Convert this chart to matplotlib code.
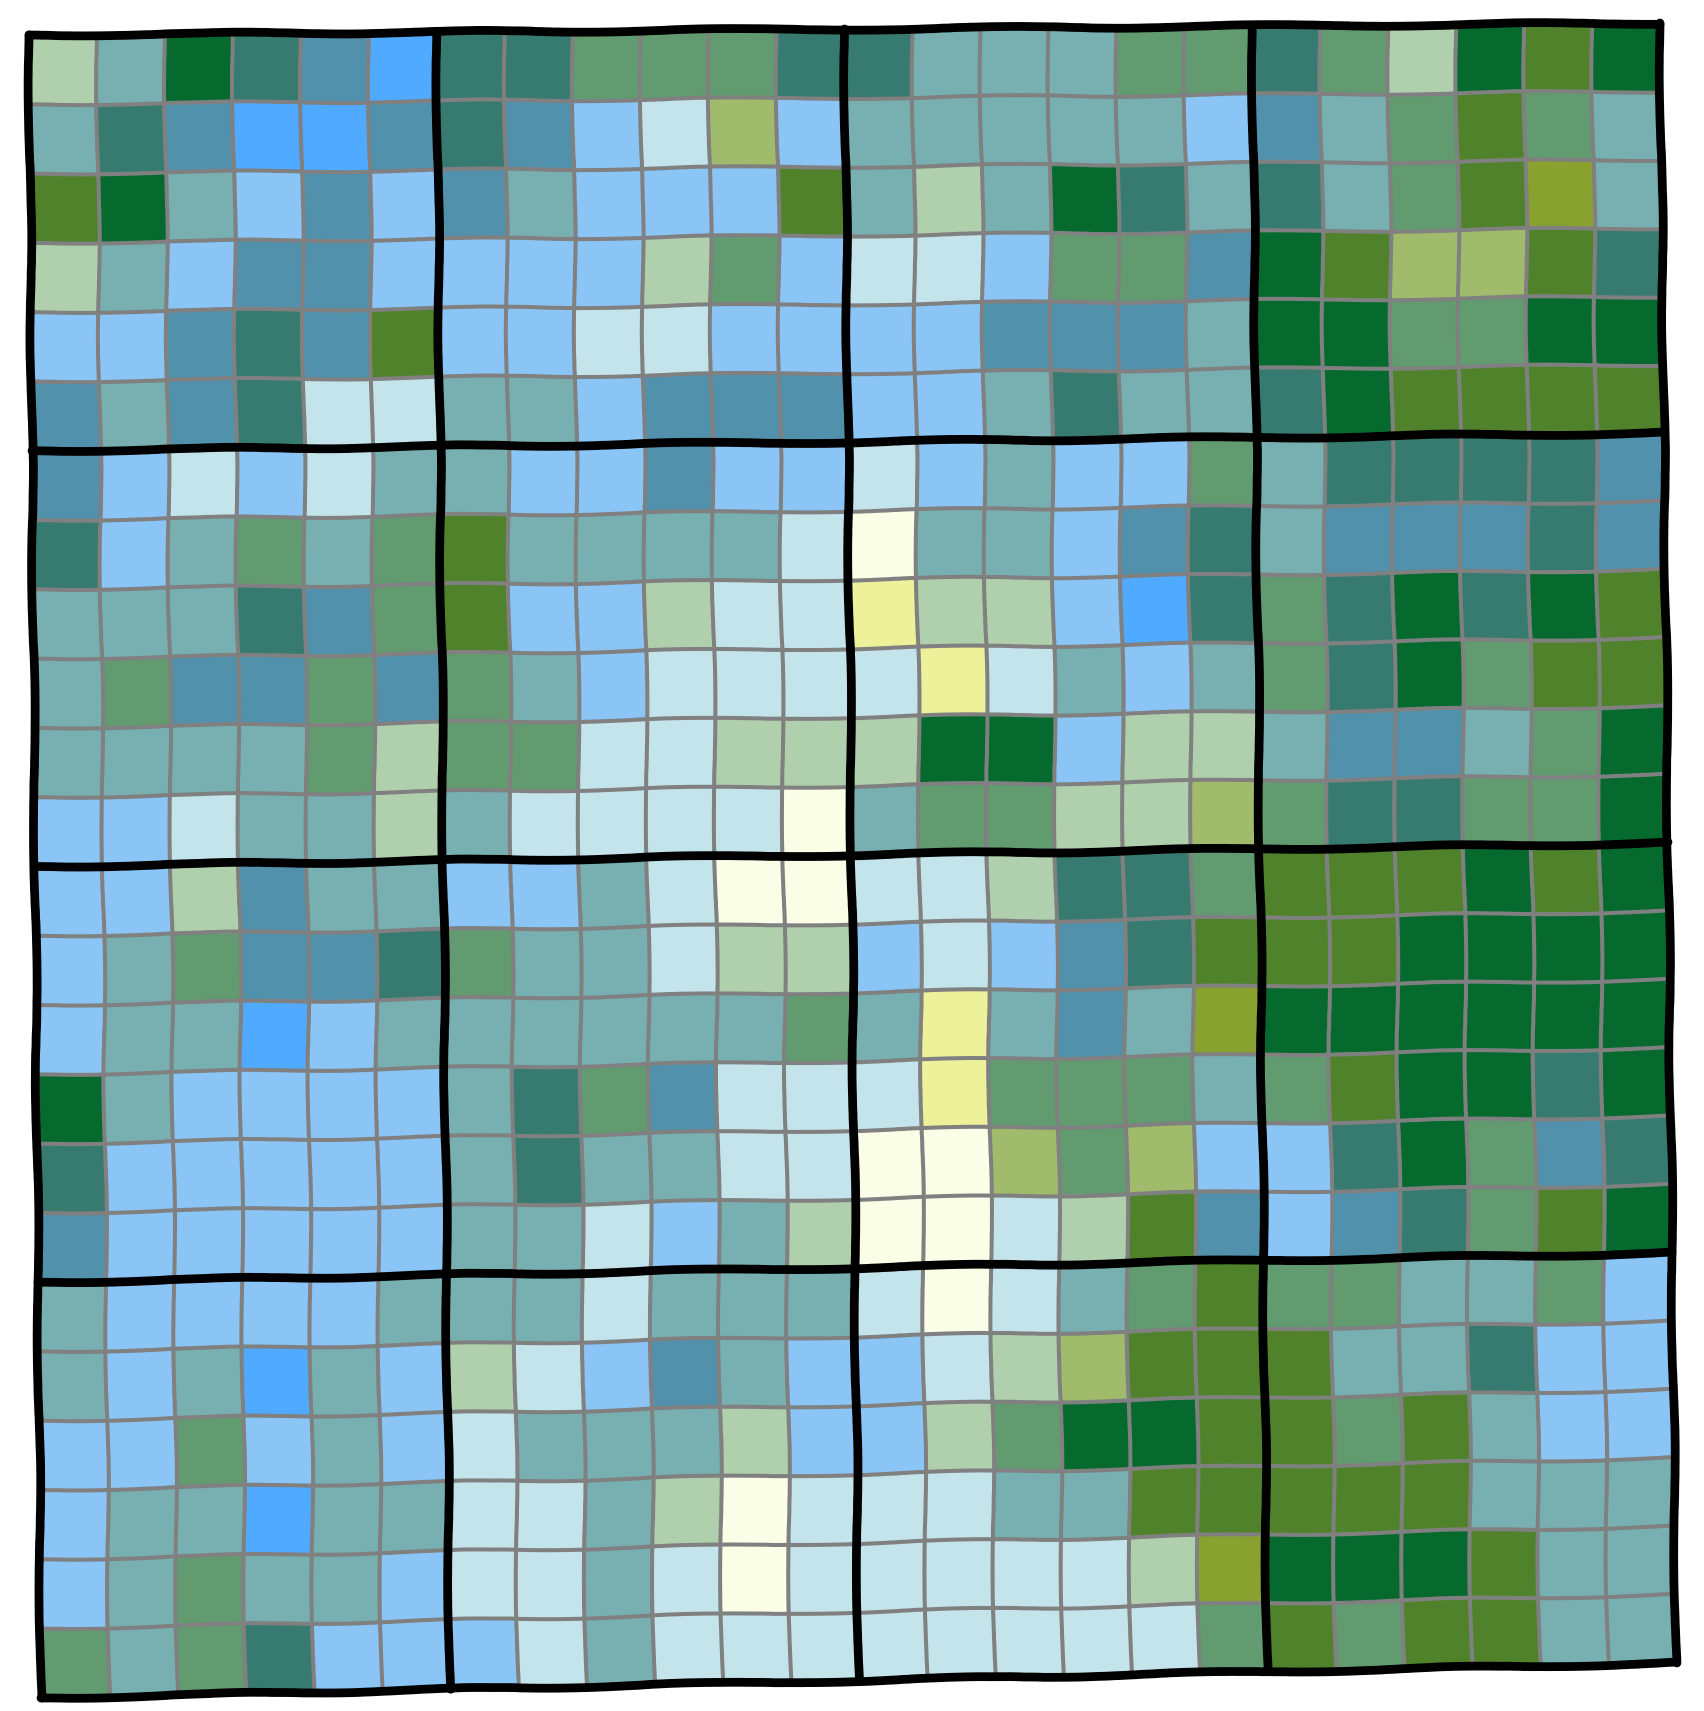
import numpy as np
import matplotlib
matplotlib.use("Agg")
import matplotlib.pyplot as plt
from matplotlib.colors import ListedColormap

# ---- data: categorical colour codes of the 24x24 cells ----
codes = "YECLBSTDGPOKNF"
palette = ["#fbfee6", "#edf19a", "#c4e4ec", "#8ac5f5", "#50aaff", "#5291ac",
           "#78b0b1", "#367a70", "#629b70", "#b0cfac", "#a0bb6c", "#89a22f",
           "#4f822b", "#066a2f"]

grid_rows = [
    "PTFDSB DDGGGD DTTTGG DGPFNF",
    "TDSBBS DSLCOL TTTTTL STGNGT",
    "NFTLSL STLLLN TPTFDT DTGNKT",
    "PTLSSL LLLPGL CCLGGS FNOOND",
    "LLSDSN LLCCLL LLSSST FFGGFF",
    "STSDCC TTLSSS LLTDTT DFNNNN",
    "SLCLCT TLLSLL CLTLLG TDDDDS",
    "DLTGTG NTTTTC YTTLSD TSSSDS",
    "TTTDSG NLLPCC EPPLBD GDFDFN",
    "TGSSGS GTLCCC CECTLT GDFGNN",
    "TTTTGP GGCCPP PFFLPP TSSTGF",
    "LLCTTP TCCCCY TGGPPO GDDGGF",
    "LLPSTT LLTCYY CCPDDG NNNFNF",
    "LTGSSD GTTCPP LCLSDN NNFFFF",
    "LTTBLT TTTTTG TETSTK FFFFFF",
    "FTLLLL TDGSCC CEGGGT GNFFDF",
    "DLLLLL TDTTCC YYOGOL LDFGSD",
    "SLLLLL TTCLTP YYCPNS LSDGNF",
    "TLLLLT TTCTTT CYCTGN GGTTGL",
    "TLTBTL PCLSTL LCPONN NTTDLL",
    "LLGLTL CTTTPL LPGFFN NGNTLL",
    "LTTBTT CCTPYC CCTTNN NNNTTT",
    "LTGTTL CCTCYC CCCCPK FFFNTT",
    "GTGDLL LCTCCC CCCCCG NGNNTT",
]

C = np.array([[codes.index(ch) for ch in r.replace(" ", "")] for r in grid_rows])
n = C.shape[0]
block = 6

# ---- layout: slightly skewed frame corners (pixel coords) ----
TL, TR, BR, BL = (29, 35), (1660, 23), (1676, 1663), (41, 1698)

def warp(u, v):
    s = np.asarray(u) / n
    t = np.asarray(v) / n
    x = TL[0]*(1-s)*(1-t) + TR[0]*s*(1-t) + BR[0]*s*t + BL[0]*(1-s)*t
    y = TL[1]*(1-s)*(1-t) + TR[1]*s*(1-t) + BR[1]*s*t + BL[1]*(1-s)*t
    return x, y

W, H = 1704, 1711
fig = plt.figure(figsize=(W/100, H/100), dpi=100)
ax = fig.add_axes([0, 0, 1, 1])
ax.set_xlim(0, W)
ax.set_ylim(H, 0)
ax.axis("off")

uu, vv = np.meshgrid(np.arange(n+1), np.arange(n+1))
X, Y = warp(uu, vv)
cmap = ListedColormap(palette)
ax.pcolormesh(X, Y, C, cmap=cmap, vmin=-0.5, vmax=len(codes)-0.5,
              shading="flat", edgecolors="none", linewidth=0, antialiased=True)

samp = np.linspace(0, n, 97)
sketch = dict(scale=1.3, length=380, randomness=5)

def draw_line(xs, ys, color, lw, z):
    ln, = ax.plot(xs, ys, color=color, lw=lw, solid_capstyle="round",
                  solid_joinstyle="round", zorder=z)
    ln.set_sketch_params(**sketch)

for i in range(n+1):
    if i % block == 0:
        continue
    draw_line(*warp(samp, np.full_like(samp, i)), "#808080", 2.9, 3)
    draw_line(*warp(np.full_like(samp, i), samp), "#808080", 2.9, 3)

for i in range(0, n+1, block):
    draw_line(*warp(samp, np.full_like(samp, i)), "black", 6.3, 4)
    draw_line(*warp(np.full_like(samp, i), samp), "black", 6.3, 4)

fig.savefig("out.png", dpi=100, facecolor="white")
